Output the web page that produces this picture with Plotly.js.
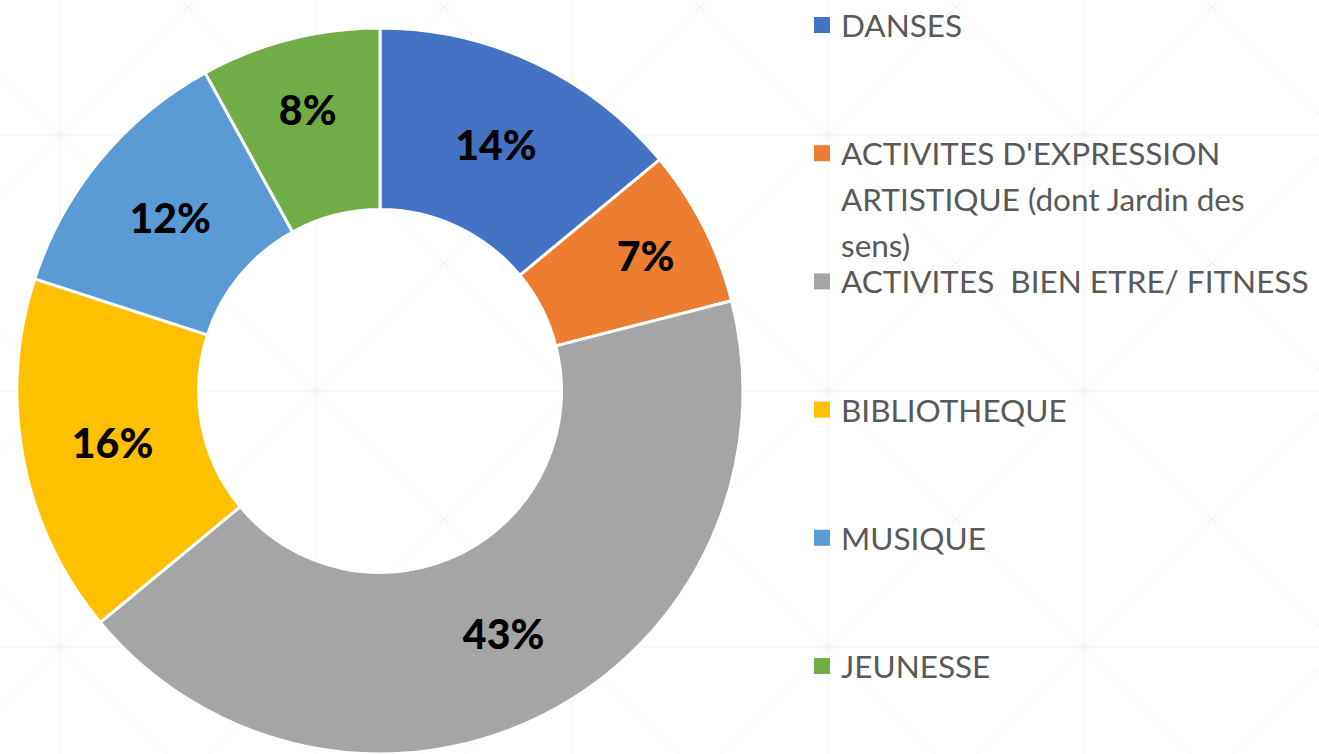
<!DOCTYPE html>
<html>
<head>
<meta charset="utf-8">
<script src="https://cdn.plot.ly/plotly-3.0.1.min.js"></script>
<style>
  html, body { margin: 0; padding: 0; background: #ffffff; }
  #chart { width: 1319px; height: 754px; }
</style>
</head>
<body>
<div id="chart"></div>
<script>
// ---- data ----
const categories = [
  "DANSES",
  "ACTIVITES D'EXPRESSION ARTISTIQUE (dont Jardin des sens)",
  "ACTIVITES\u00a0 BIEN ETRE/ FITNESS",
  "BIBLIOTHEQUE",
  "MUSIQUE",
  "JEUNESSE"
];
const legendLines = [
  ["DANSES"],
  ["ACTIVITES D'EXPRESSION", "ARTISTIQUE (dont Jardin des", "sens)"],
  ["ACTIVITES\u00a0 BIEN ETRE/ FITNESS"],
  ["BIBLIOTHEQUE"],
  ["MUSIQUE"],
  ["JEUNESSE"]
];
const percents = [14, 7, 43, 16, 12, 8];
const colors = ["#4472C4", "#ED7D31", "#A5A5A5", "#FFC000", "#5B9BD5", "#70AD47"];

// ---- layout helpers (pixel -> paper) ----
const W = 1319, H = 754;
const px = x => x / W;
const py = y => 1 - y / H;

const shapes = [];
const annotations = [];

// faint background lattice (decorative)
const cell = 256, gx0 = 60 - 256, gy0 = 135 - 256;
const gridLine = { color: "#efefef", width: 1 };
for (let x = gx0; x <= W + cell; x += cell) {
  shapes.push({ type: "line", xref: "paper", yref: "paper", x0: px(x), x1: px(x), y0: py(-10), y1: py(H + 10), line: gridLine, layer: "below" });
}
for (let y = gy0; y <= H + cell; y += cell) {
  shapes.push({ type: "line", xref: "paper", yref: "paper", x0: px(-10), x1: px(W + 10), y0: py(y), y1: py(y), line: gridLine, layer: "below" });
}
for (let x = gx0; x <= W + cell; x += cell) {
  for (let y = gy0; y <= H + cell; y += cell) {
    shapes.push({ type: "line", xref: "paper", yref: "paper", x0: px(x), y0: py(y), x1: px(x + cell), y1: py(y + cell), line: gridLine, layer: "below" });
    shapes.push({ type: "line", xref: "paper", yref: "paper", x0: px(x + cell), y0: py(y), x1: px(x), y1: py(y + cell), line: gridLine, layer: "below" });
  }
}

// custom legend
const legTop = 25, legStep = 128.2, legLineH = 46;
const mark = 16, markX = 814, textX = 839;
legendLines.forEach((lines, i) => {
  const yc = legTop + i * legStep;
  shapes.push({
    type: "rect", xref: "paper", yref: "paper",
    x0: px(markX), x1: px(markX + mark), y0: py(yc - mark / 2), y1: py(yc + mark / 2),
    fillcolor: colors[i], line: { width: 0 }
  });
  lines.forEach((t, j) => {
    annotations.push({
      xref: "paper", yref: "paper", x: px(textX), y: py(yc + j * legLineH),
      xanchor: "left", yanchor: "middle", showarrow: false, text: t,
      font: { family: "Lato, 'Open Sans', sans-serif", size: 31.5, color: "#595959" }
    });
  });
});

const trace = {
  type: "pie",
  labels: categories,
  values: percents,
  sort: false,
  direction: "clockwise",
  rotation: 0,
  hole: 0.5,
  marker: { colors: colors, line: { color: "#ffffff", width: 3 } },
  texttemplate: "%{value}%",
  textinfo: "text",
  textposition: "inside",
  insidetextorientation: "horizontal",
  insidetextfont: { family: "Lato, 'Open Sans', sans-serif", size: 41, color: "#000000", weight: 900 },
  domain: { x: [px(14), px(746)], y: [0, py(28)] },
  showlegend: false,
  hoverinfo: "label+percent"
};

const layout = {
  width: W, height: H,
  margin: { l: 0, r: 0, t: 0, b: 0 },
  paper_bgcolor: "#ffffff",
  showlegend: false,
  shapes: shapes,
  annotations: annotations,
  font: { family: "Lato, sans-serif" }
};

Plotly.newPlot("chart", [trace], layout, { displayModeBar: false, staticPlot: true });
</script>
</body>
</html>
